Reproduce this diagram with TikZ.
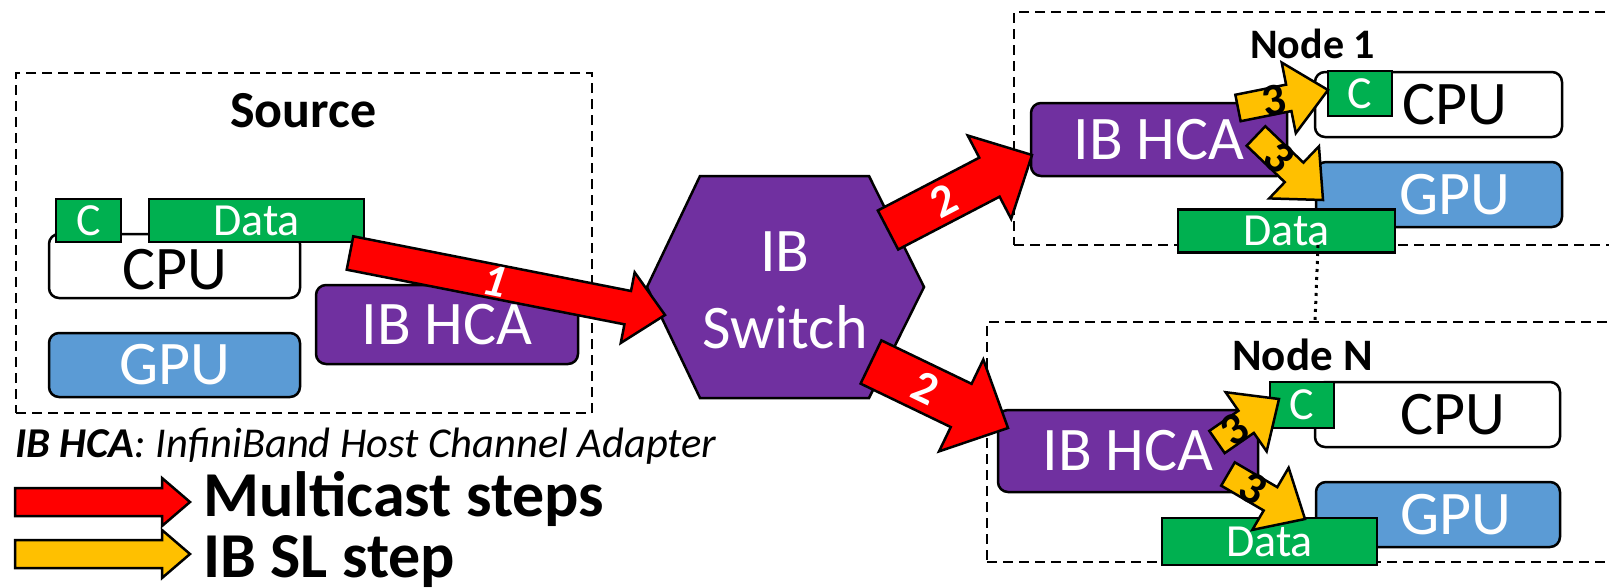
\documentclass[tikz,border=0pt]{standalone}
\usepackage{fontspec}
\setmainfont{Carlito}
\usetikzlibrary{calc}
\definecolor{ipurple}{HTML}{7030A0}
\definecolor{iblue}{HTML}{5B9BD5}
\definecolor{igreen}{HTML}{00B050}
\definecolor{ired}{HTML}{FF0000}
\definecolor{iyellow}{HTML}{FFC000}
\newcommand\fs[1]{\fontsize{#1}{#1}\selectfont}
\newcommand\fatarrow[9]{%
  \coordinate (fah) at ($(#2)!#5!(#1)$);
  \draw[#6] ($(#1)!#3!90:(#2)$) -- ($(fah)!#3!-90:(#1)$) -- ($(fah)!#4!-90:(#1)$) -- (#2) -- ($(fah)!#4!90:(#1)$) -- ($(fah)!#3!90:(#1)$) -- ($(#1)!#3!-90:(#2)$) -- cycle;
  \path (#1) -- (fah) node[pos=#7, sloped, inner sep=0pt, #8] {#9};
}
\tikzset{
  group/.style={draw, dash pattern=on 10pt off 6pt, line width=2.5pt, inner sep=0pt},
  rbox/.style={draw, line width=2.5pt, rounded corners=10pt, inner sep=0pt},
  sbox/.style={draw, line width=2.5pt, inner sep=0pt},
  cpubox/.style={rbox, fill=white},
  gpubox/.style={rbox, fill=iblue},
  hcabox/.style={rbox, fill=ipurple},
  greenbox/.style={sbox, fill=igreen},
  bigtxt/.style={font=\fontsize{62}{77}\selectfont, inner sep=0pt},
  wbig/.style={bigtxt, text=white},
  smalltxt/.style={font=\fs{46}, inner sep=0pt, text=white},
  redarrow/.style={draw, line width=2.5pt, fill=ired, line join=miter},
  yelarrow/.style={draw, line width=2.5pt, fill=iyellow, line join=miter},
  redlbl/.style={text=white, font=\fs{46}\bfseries},
  yellbl/.style={text=black, font=\fs{46}\bfseries},
  dotline/.style={draw, line width=3pt, dash pattern=on 3pt off 5pt},
}
\begin{document}
\begin{tikzpicture}[x=1pt,y=-1pt]
\useasboundingbox (0,0) rectangle (1609,587);
% groups
\node[group, minimum width=576, minimum height=340] (srcgrp) at (304,243) {};
\node[group, minimum width=611, minimum height=233] (grp1) at (1319.5,128.5) {};
\node[group, minimum width=638, minimum height=240] (grpN) at (1306,442) {};
\node[font=\fs{52}\bfseries, anchor=base west, inner sep=0pt] (srclbl) at (230,127) {Source};
\node[font=\fs{42}\bfseries, anchor=base west, inner sep=0pt] (lbl1) at (1250,58) {Node 1};
\node[font=\fs{45}\bfseries, anchor=base west, inner sep=0pt] (lblN) at (1232,370) {Node N};
% source
\node[cpubox, minimum width=251, minimum height=64] (scpu) at (174.5,266) {};
\node[bigtxt] (scput) at (174.5,270) {CPU};
\node[greenbox, minimum width=65, minimum height=43] (sc) at (88.5,220.5) {};
\node[smalltxt] at (sc) {C};
\node[greenbox, minimum width=215, minimum height=43] (sdata) at (256.5,220.5) {};
\node[smalltxt] at (sdata) {Data};
\node[gpubox, minimum width=251, minimum height=64] (sgpu) at (174.5,365) {};
\node[wbig] at (sgpu) {GPU};
\node[hcabox, minimum width=262, minimum height=79] (shca) at (447,324.5) {};
\node[wbig] at (shca) {IB HCA};
% switch
\draw[line width=2.5pt, fill=ipurple] (647,287) -- (700,176) -- (869,176) -- (924,287) -- (869,398) -- (700,398) -- cycle;
\node[wbig, align=center] (switch) at (785,290) {IB\\Switch};
% node 1
\node[cpubox, minimum width=247, minimum height=65] (n1cpu) at (1438.5,104.5) {};
\node[bigtxt] at (1455,104.5) {CPU};
\node[greenbox, minimum width=64, minimum height=45] (n1c) at (1360,93.5) {};
\node[smalltxt] at (n1c) {C};
\node[gpubox, minimum width=246, minimum height=65] (n1gpu) at (1439,194.5) {};
\node[wbig] at (1455,194.5) {GPU};
\node[hcabox, minimum width=256, minimum height=73] (n1hca) at (1159,139.5) {};
\node[wbig] at (n1hca) {IB HCA};
\node[greenbox, minimum width=217, minimum height=43] (n1data) at (1286.5,231) {};
\node[smalltxt] at (n1data) {Data};
% node N
\node[cpubox, minimum width=245, minimum height=65] (nNcpu) at (1437.5,414.5) {};
\node[bigtxt] at (1453,414.5) {CPU};
\node[greenbox, minimum width=64, minimum height=46] (nNc) at (1302,405) {};
\node[smalltxt] at (nNc) {C};
\node[gpubox, minimum width=244, minimum height=65] (nNgpu) at (1438,514.5) {};
\node[wbig] at (1456,514.5) {GPU};
\node[hcabox, minimum width=260, minimum height=82] (nNhca) at (1128,451) {};
\node[wbig] at (nNhca) {IB HCA};
\node[greenbox, minimum width=215, minimum height=47] (nNdata) at (1269.5,541.5) {};
\node[smalltxt] at (nNdata) {Data};
% dotted link
\coordinate (d1) at (1318,245);
\coordinate (d2) at (1315,322);
\draw[dotline] (d1) -- (d2);
% yellow arrows
\coordinate (y1a) at (1238,108); \coordinate (y1b) at (1328,90);
\fatarrow{y1a}{y1b}{13.5pt}{36pt}{40pt}{yelarrow}{0.7}{yellbl}{3}
\coordinate (y2a) at (1256,136); \coordinate (y2b) at (1323,200);
\fatarrow{y2a}{y2b}{13.5pt}{36pt}{40pt}{yelarrow}{0.6}{yellbl}{3}
\coordinate (y3a) at (1217,442); \coordinate (y3b) at (1279,399);
\fatarrow{y3a}{y3b}{13.5pt}{36pt}{40pt}{yelarrow}{0.6}{yellbl}{3}
\coordinate (y4a) at (1228,474); \coordinate (y4b) at (1305,519);
\fatarrow{y4a}{y4b}{13.5pt}{36pt}{40pt}{yelarrow}{0.6}{yellbl}{3}
% red arrows
\coordinate (r1a) at (350,253); \coordinate (r1b) at (665,315);
\fatarrow{r1a}{r1b}{17pt}{36pt}{38pt}{redarrow}{0.52}{redlbl, font=\fs{46}\bfseries\itshape}{1}
\coordinate (r2a) at (888,230); \coordinate (r2b) at (1032,155);
\fatarrow{r2a}{r2b}{22pt}{47pt}{48pt}{redarrow}{0.55}{redlbl}{2}
\coordinate (r3a) at (871,362); \coordinate (r3b) at (1008,428);
\fatarrow{r3a}{r3b}{24pt}{51pt}{52pt}{redarrow}{0.6}{redlbl}{2}
% legend
\node[font=\fs{42.5}\itshape, anchor=base west, inner sep=0pt] (legtxt) at (15,457) {\textbf{IB HCA}: InfiniBand Host Channel Adapter};
\coordinate (lr1) at (15,502); \coordinate (lr2) at (190,502);
\fatarrow{lr1}{lr2}{14pt}{24pt}{28pt}{redarrow}{0.5}{}{}
\coordinate (ly1) at (15,554); \coordinate (ly2) at (190,554);
\fatarrow{ly1}{ly2}{14pt}{24pt}{28pt}{yelarrow}{0.5}{}{}
\node[font=\fs{64}\bfseries, anchor=base west, inner sep=0pt] (legm) at (203,516) {Multicast steps};
\node[font=\fs{64}\bfseries, anchor=base west, inner sep=0pt] (legs) at (203,577) {IB SL step};
\end{tikzpicture}
\end{document}
